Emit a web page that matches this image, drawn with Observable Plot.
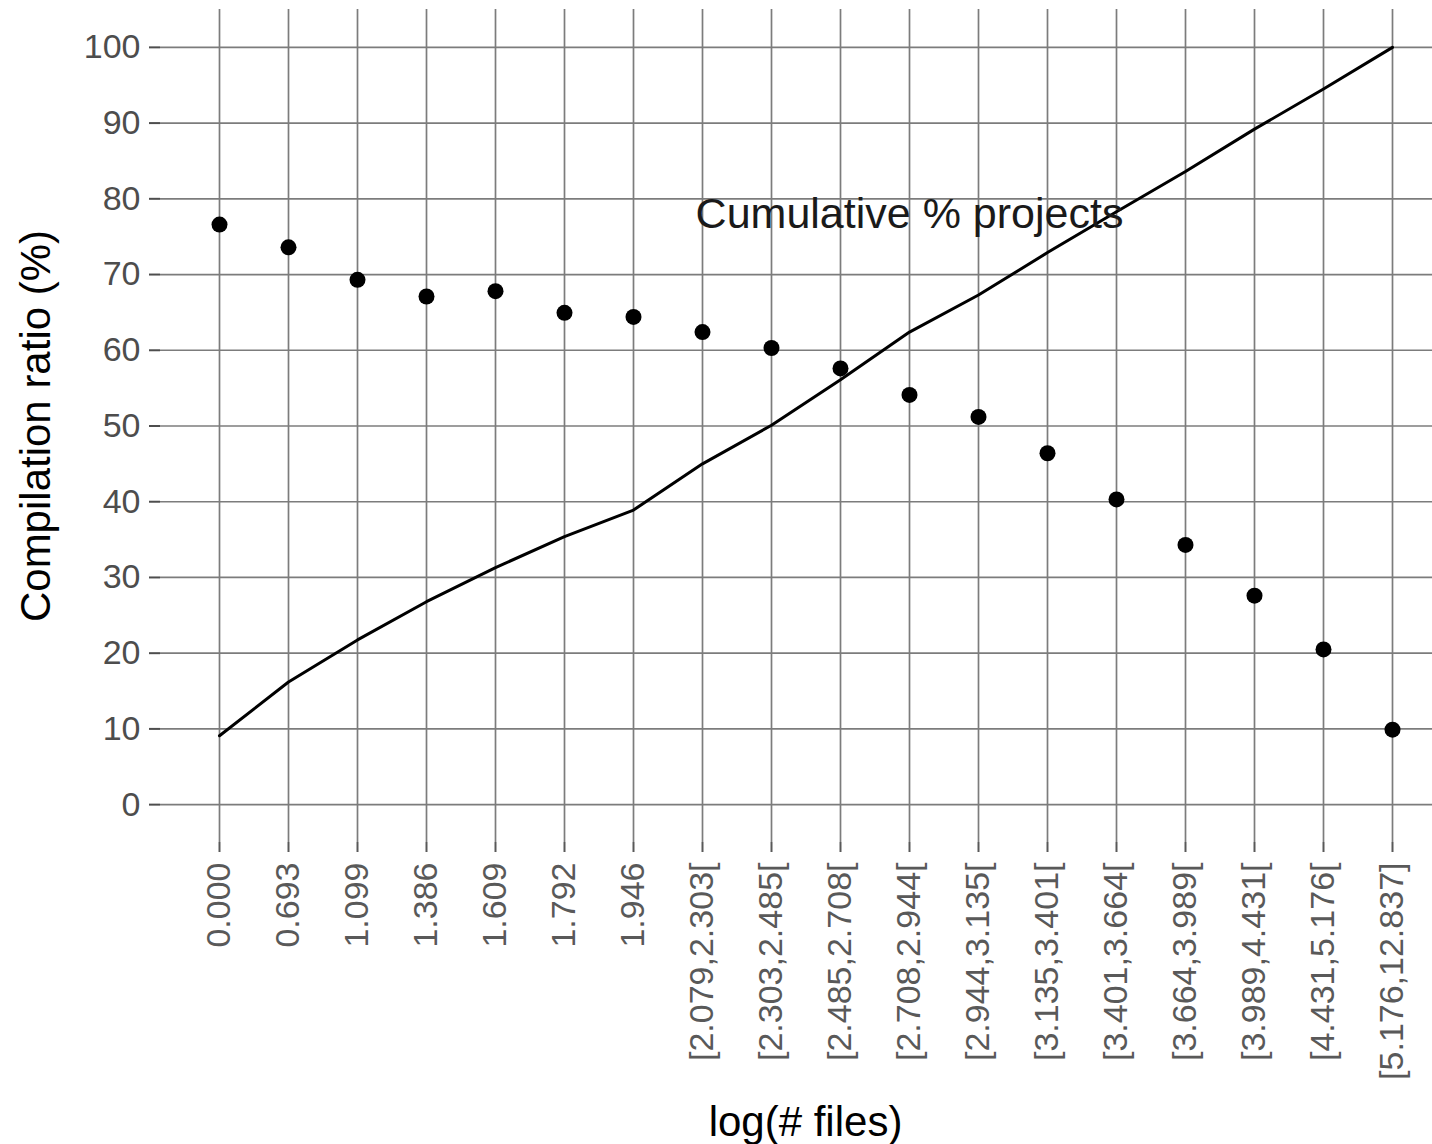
<!DOCTYPE html>
<html>
<head>
<meta charset="utf-8">
<script src="https://cdn.jsdelivr.net/npm/d3@7"></script>
<script src="https://cdn.jsdelivr.net/npm/@observablehq/plot@0.6"></script>
<style>
  html, body { margin: 0; padding: 0; background: #fff; }
  #chart svg { display: block; }
</style>
</head>
<body>
<div id="chart"></div>
<script>
const categories = ["0.000","0.693","1.099","1.386","1.609","1.792","1.946","[2.079,2.303[","[2.303,2.485[","[2.485,2.708[","[2.708,2.944[","[2.944,3.135[","[3.135,3.401[","[3.401,3.664[","[3.664,3.989[","[3.989,4.431[","[4.431,5.176[","[5.176,12.837]"];
const compilationRatio = [76.6,73.6,69.3,67.1,67.8,64.95,64.4,62.4,60.3,57.6,54.1,51.2,46.4,40.3,34.3,27.6,20.5,9.9];
const cumulativeProjects = [9.1,16.2,21.75,26.8,31.3,35.4,38.9,45.0,50.1,56.1,62.4,67.3,72.9,78.3,83.6,89.2,94.5,100];
const yTicks = [0,10,20,30,40,50,60,70,80,90,100];
const annotationLabel = ["Cumulative % projects"];
const annotationX = "[2.708,2.944[";
const annotationY = 78;

const points = categories.map((c, i) => ({cat: c, ratio: compilationRatio[i]}));
const cumul = categories.map((c, i) => ({cat: c, cum: cumulativeProjects[i]}));

const font = "'Liberation Sans', Arial, Helvetica, sans-serif";
const gridColor = "#7c7c7c";

const chart = Plot.plot({
  width: 1432,
  height: 1144,
  marginTop: 9,
  marginBottom: 302,
  marginLeft: 160,
  marginRight: 0,
  style: {fontFamily: font, background: "#fff"},
  x: {type: "point", domain: categories, padding: 0, insetLeft: 58, insetRight: 40},
  y: {domain: [-5, 105]},
  marks: [
    Plot.gridX(categories, {stroke: gridColor, strokeOpacity: 1, strokeWidth: 1.7}),
    Plot.gridY(yTicks, {stroke: gridColor, strokeOpacity: 1, strokeWidth: 1.7}),
    Plot.axisY(yTicks, {
      tickSize: 11, tickPadding: 9, fontSize: 34, color: "#4d4d4d",
      strokeWidth: 2, label: null, tickFormat: d => String(d)
    }),
    Plot.axisX(categories, {
      tickSize: 10, tickPadding: 10, fontSize: 34, color: "#595959",
      strokeWidth: 2, tickRotate: -90, label: null
    }),
    Plot.line(cumul, {x: "cat", y: "cum", stroke: "#000", strokeWidth: 3}),
    Plot.dot(points, {x: "cat", y: "ratio", r: 8, fill: "#000", stroke: "none"}),
    Plot.text(annotationLabel, {
      x: () => annotationX, y: () => annotationY, text: d => d,
      fontSize: 43, fill: "#1a1a1a", textAnchor: "middle", lineAnchor: "middle"
    }),
    Plot.text(["Compilation ratio (%)"], {
      frameAnchor: "left", text: d => d, rotate: -90, dx: -124,
      fontSize: 42, fill: "#000", textAnchor: "middle", lineAnchor: "middle"
    }),
    Plot.text(["log(# files)"], {
      frameAnchor: "bottom", text: d => d, dx: 9, dy: 280,
      fontSize: 42, fill: "#000", textAnchor: "middle", lineAnchor: "middle"
    })
  ]
});

document.getElementById("chart").appendChild(chart);
</script>
</body>
</html>
